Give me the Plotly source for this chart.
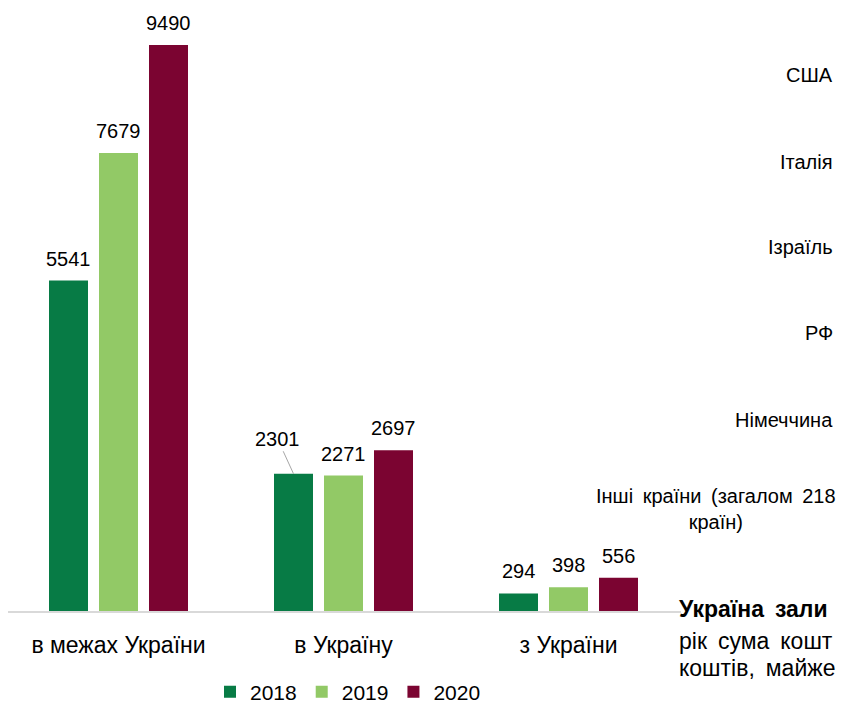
import plotly.graph_objects as go

categories = ["в межах України", "в Україну", "з України"]
years = ["2018", "2019", "2020"]
values_2018 = [5541, 2301, 294]
values_2019 = [7679, 2271, 398]
values_2020 = [9490, 2697, 556]
series = [values_2018, values_2019, values_2020]
colors = ["#077B45", "#92C966", "#7B0431"]

SP = "\u2009 "  # slightly widened word gap (justified text look)
side_labels = ["США", "Італія", "Ізраїль", "РФ", "Німеччина"]
other_label = SP.join(["Інші", "країни", "(загалом", "218"]) + "<br>країн)"
para_lines = ["<b>" + SP.join(["Україна", "зали"]) + "</b>",
              SP.join(["рік", "сума", "кошт"]),
              SP.join(["коштів,", "майже"])]

FONT = "Liberation Sans, Arial, sans-serif"
# the page body has an 8px margin; figure coordinates = page - 8
OFF = 8
W, H = 836, 697
PL, PR, PT, PB = 0, 673, 0, 603   # plot area in figure pixels
BARGAP = 1 / 3
BARGROUPGAP = 0.22
CAT_PX = 225.0
X0 = -0.5 + (OFF - 6) / CAT_PX
X1 = X0 + (PR - PL) / CAT_PX
PX_PER_UNIT = 566 / 9490
YMAX = (PB - PT) / PX_PER_UNIT


def px(page_x):
    return (page_x - OFF - PL) / (PR - PL)


def py(page_y):
    return (PB - (page_y - OFF)) / (PB - PT)


fig = go.Figure()
for yr, vals, col in zip(years, series, colors):
    fig.add_trace(go.Bar(x=categories, y=vals, name=yr, marker_color=col,
                         marker_line_width=0))

slot = (1 - BARGAP) / 3
annotations = []
for si, vals in enumerate(series):
    off = (si - 1) * slot
    for ci, v in enumerate(vals):
        if si == 0 and ci == 1:
            annotations.append(dict(x=ci + off, y=v, xref="x", yref="y", text=str(v),
                                    showarrow=True, arrowhead=0, arrowwidth=1,
                                    arrowcolor="#A6A6A6", ax=-16, ay=-35, standoff=0,
                                    font=dict(size=20, color="#000", family=FONT)))
        else:
            annotations.append(dict(x=ci + off, y=v, xref="x", yref="y", text=str(v),
                                    showarrow=False, yanchor="bottom", yshift=9,
                                    font=dict(size=20, color="#000", family=FONT)))

ys = [75, 162, 247, 333, 420]
for lab, yp in zip(side_labels, ys):
    annotations.append(dict(x=px(835), y=py(yp), xref="paper", yref="paper",
                            xanchor="right", yanchor="middle", text=lab, showarrow=False,
                            font=dict(size=20, color="#000", family=FONT)))
annotations.append(dict(x=px(716), y=py(509), xref="paper", yref="paper",
                        xanchor="center", yanchor="middle", text=other_label, showarrow=False,
                        align="center",
                        font=dict(size=20, color="#000", family=FONT)))
for line, yp in zip(para_lines, [609, 641, 668]):
    annotations.append(dict(x=px(677), y=py(yp), xref="paper", yref="paper",
                            xanchor="left", yanchor="middle", text=line, showarrow=False,
                            font=dict(size=23, color="#000", family=FONT)))

fig.update_layout(
    width=W, height=H,
    margin=dict(l=PL, r=W - PR, t=PT, b=H - PB, autoexpand=False),
    paper_bgcolor="white", plot_bgcolor="white",
    barmode="group", bargap=BARGAP, bargroupgap=BARGROUPGAP,
    showlegend=True,
    legend=dict(orientation="h", x=px(348), xanchor="center",
                y=py(692), yanchor="middle",
                font=dict(size=21, color="#000", family=FONT), itemwidth=30,
                traceorder="normal"),
    annotations=annotations,
    font=dict(family=FONT),
)
fig.update_xaxes(range=[X0, X1], showline=True, linecolor="#D9D9D9", linewidth=2,
                 ticks="outside", ticklen=12, tickcolor="rgba(0,0,0,0)",
                 tickfont=dict(size=23, color="#000", family=FONT), showgrid=False)
fig.update_yaxes(range=[0, YMAX], visible=False, showgrid=False)

fig.write_html("out.html")
